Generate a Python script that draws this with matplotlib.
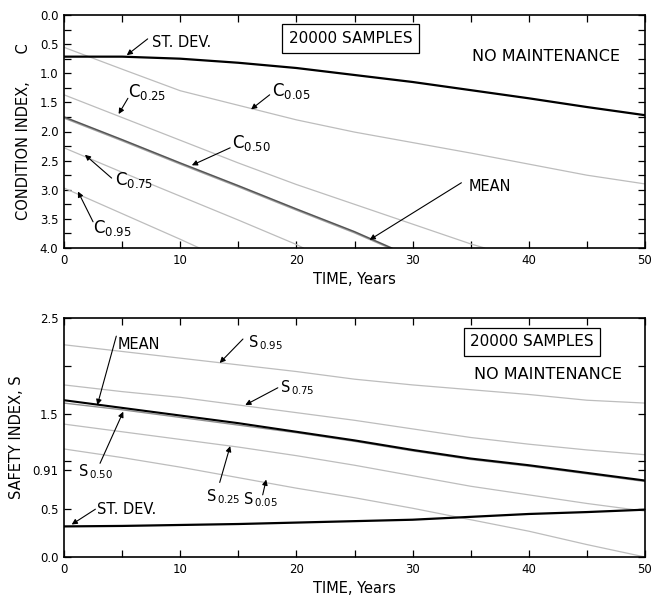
import matplotlib
matplotlib.use("Agg")
import matplotlib.pyplot as plt
from matplotlib.ticker import MultipleLocator

plt.rcParams['font.family'] = ['DejaVu Sans']
plt.rcParams['mathtext.default'] = 'regular'

# ---------------- data: top panel (condition index) ----------------
years = [0, 5, 10, 15, 20, 25, 30, 35, 40, 45, 50]
c_std = [0.715, 0.715, 0.75, 0.82, 0.91, 1.03, 1.15, 1.29, 1.43, 1.58, 1.72]
c_05 = [0.555, 0.93, 1.30, 1.55, 1.80, 2.01, 2.19, 2.37, 2.56, 2.75, 2.90]
c_25_x = [0, 5, 10, 15, 20, 25, 30, 35, 36.2]
c_25 = [1.37, 1.76, 2.15, 2.54, 2.91, 3.25, 3.59, 3.93, 4.0]
c_mean_x = [0, 5, 10, 15, 20, 25, 28.2]
c_mean = [1.75, 2.14, 2.54, 2.93, 3.33, 3.72, 4.0]
c_50_x = [0, 5, 10, 15, 20, 25, 28.0]
c_50 = [1.77, 2.16, 2.56, 2.95, 3.35, 3.74, 4.0]
c_75_x = [0, 5, 10, 15, 20, 20.6]
c_75 = [2.28, 2.70, 3.11, 3.52, 3.94, 4.0]
c_95_x = [0, 5, 10, 11.65]
c_95 = [2.97, 3.41, 3.85, 4.0]

# ---------------- data: bottom panel (safety index) ----------------
s_std = [0.32, 0.325, 0.335, 0.345, 0.36, 0.375, 0.39, 0.42, 0.45, 0.47, 0.495]
s_95 = [2.22, 2.15, 2.08, 2.01, 1.94, 1.86, 1.80, 1.75, 1.70, 1.64, 1.61]
s_75 = [1.80, 1.73, 1.67, 1.59, 1.51, 1.43, 1.34, 1.25, 1.18, 1.12, 1.07]
s_mean = [1.64, 1.56, 1.48, 1.40, 1.31, 1.22, 1.12, 1.03, 0.96, 0.88, 0.80]
s_50 = [1.61, 1.54, 1.46, 1.38, 1.30, 1.21, 1.11, 1.02, 0.95, 0.87, 0.79]
s_25 = [1.39, 1.31, 1.23, 1.15, 1.06, 0.96, 0.85, 0.74, 0.65, 0.56, 0.48]
s_05 = [1.13, 1.04, 0.94, 0.83, 0.72, 0.62, 0.51, 0.39, 0.27, 0.13, 0.0]

top_yticks = [0.0, 0.5, 1.0, 1.5, 2.0, 2.5, 3.0, 3.5, 4.0]
top_yticklabels = ['0.0', '0.5', '1.0', '1.5', '2.0', '2.5', '3.0', '3.5', '4.0']
bot_yticks = [0.0, 0.5, 0.91, 1.0, 1.5, 2.0, 2.5]
bot_yticklabels = ['0.0', '0.5', '0.91', '', '1.5', '', '2.5']
xticks = [0, 10, 20, 30, 40, 50]

GRAY = '#bdbdbd'
fig = plt.figure(figsize=(6.64, 5.99), dpi=100)
ax1 = fig.add_axes([64 / 664, 1 - 248 / 599, 581 / 664, 233 / 599])
ax2 = fig.add_axes([64 / 664, 1 - 557 / 599, 581 / 664, 239 / 599])


def style(ax):
    for s in ax.spines.values():
        s.set_linewidth(1.2)
    ax.tick_params(which='both', direction='in', top=True, right=True,
                   length=5, width=0.9, labelsize=8.5, pad=4)
    ax.xaxis.set_minor_locator(MultipleLocator(5))
    ax.set_xticks(xticks)
    ax.set_xlim(0, 50)
    ax.set_xlabel('TIME, Years', fontsize=10.5, labelpad=4)


def arrow(ax, tail, head):
    ax.annotate('', xy=head, xytext=tail,
                arrowprops=dict(arrowstyle='-|>', lw=0.8, color='black',
                                mutation_scale=8, shrinkA=0, shrinkB=0))


# ---------------- top panel ----------------
ax = ax1
ax.plot(c_25_x, c_25, color=GRAY, lw=0.9)
ax.plot(years, c_05, color=GRAY, lw=0.9)
ax.plot(c_75_x, c_75, color=GRAY, lw=0.9)
ax.plot(c_95_x, c_95, color=GRAY, lw=0.9)
ax.plot(c_50_x, c_50, color='#a0a0a0', lw=1.0)
ax.plot(c_mean_x, c_mean, color='#555555', lw=1.1)
ax.plot(years, c_std, color='black', lw=1.6)
ax.set_ylim(4.0, 0.0)
ax.set_yticks(top_yticks)
ax.set_yticklabels(top_yticklabels)
ax.yaxis.set_minor_locator(MultipleLocator(0.25))
style(ax)
ax.set_ylabel('CONDITION INDEX,      C', fontsize=10.5, labelpad=6)

ax.text(7.6, 0.47, 'ST. DEV.', fontsize=10.5, va='center', ha='left')
arrow(ax, (7.2, 0.41), (5.4, 0.69))
ax.text(24.66, 0.40, '20000 SAMPLES', fontsize=11, va='center', ha='center',
        bbox=dict(boxstyle='square,pad=0.45', fc='white', ec='black', lw=0.9))
ax.text(35.1, 0.72, 'NO MAINTENANCE', fontsize=11.5, va='center', ha='left')

ax.text(5.5, 1.32, r'C$_{0.25}$', fontsize=12, va='center', ha='left')
arrow(ax, (5.5, 1.43), (4.7, 1.70))
ax.text(17.9, 1.30, r'C$_{0.05}$', fontsize=12, va='center', ha='left')
arrow(ax, (17.7, 1.37), (16.1, 1.62))
ax.text(14.5, 2.20, r'C$_{0.50}$', fontsize=12, va='center', ha='left')
arrow(ax, (14.3, 2.28), (11.0, 2.58))
ax.text(4.4, 2.83, r'C$_{0.75}$', fontsize=12, va='center', ha='left')
arrow(ax, (4.1, 2.80), (1.8, 2.40))
ax.text(2.5, 3.66, r'C$_{0.95}$', fontsize=12, va='center', ha='left')
arrow(ax, (2.5, 3.55), (1.2, 3.03))
ax.text(34.8, 2.95, 'MEAN', fontsize=10.5, va='center', ha='left')
arrow(ax, (34.2, 2.88), (26.3, 3.86))

# ---------------- bottom panel ----------------
ax = ax2
ax.plot(years, s_95, color=GRAY, lw=0.9)
ax.plot(years, s_75, color=GRAY, lw=0.9)
ax.plot(years, s_50, color='#909090', lw=1.0)
ax.plot(years, s_25, color=GRAY, lw=0.9)
ax.plot(years, s_05, color=GRAY, lw=0.9)
ax.plot(years, s_mean, color='black', lw=1.5)
ax.plot(years, s_std, color='black', lw=1.6)
ax.set_ylim(0.0, 2.5)
ax.set_yticks(bot_yticks)
ax.set_yticklabels(bot_yticklabels)
style(ax)
ax.set_ylabel('SAFETY INDEX, S', fontsize=10.5, labelpad=6)

ax.text(4.6, 2.22, 'MEAN', fontsize=10.5, va='center', ha='left')
arrow(ax, (4.5, 2.31), (2.87, 1.59))
ax.text(15.8, 2.24, r'S$_{\,0.95}$', fontsize=10.5, va='center', ha='left')
arrow(ax, (15.4, 2.28), (13.4, 2.03))
ax.text(18.6, 1.77, r'S$_{\,0.75}$', fontsize=10.5, va='center', ha='left')
arrow(ax, (18.4, 1.77), (15.6, 1.59))
ax.text(1.2, 0.895, r'S$_{\,0.50}$', fontsize=10.5, va='center', ha='left')
arrow(ax, (3.1, 0.98), (5.1, 1.52))
ax.text(12.2, 0.63, r'S$_{\,0.25}$', fontsize=10.5, va='center', ha='left')
arrow(ax, (13.4, 0.78), (14.3, 1.16))
ax.text(15.4, 0.60, r'S$_{\,0.05}$', fontsize=10.5, va='center', ha='left')
arrow(ax, (17.1, 0.65), (17.4, 0.81))
ax.text(2.8, 0.50, 'ST. DEV.', fontsize=10.5, va='center', ha='left')
arrow(ax, (2.7, 0.50), (0.66, 0.34))
ax.text(40.3, 2.25, '20000 SAMPLES', fontsize=11, va='center', ha='center',
        bbox=dict(boxstyle='square,pad=0.4', fc='white', ec='black', lw=0.9))
ax.text(35.3, 1.91, 'NO MAINTENANCE', fontsize=11.5, va='center', ha='left')

fig.savefig('out.png', dpi=100)
